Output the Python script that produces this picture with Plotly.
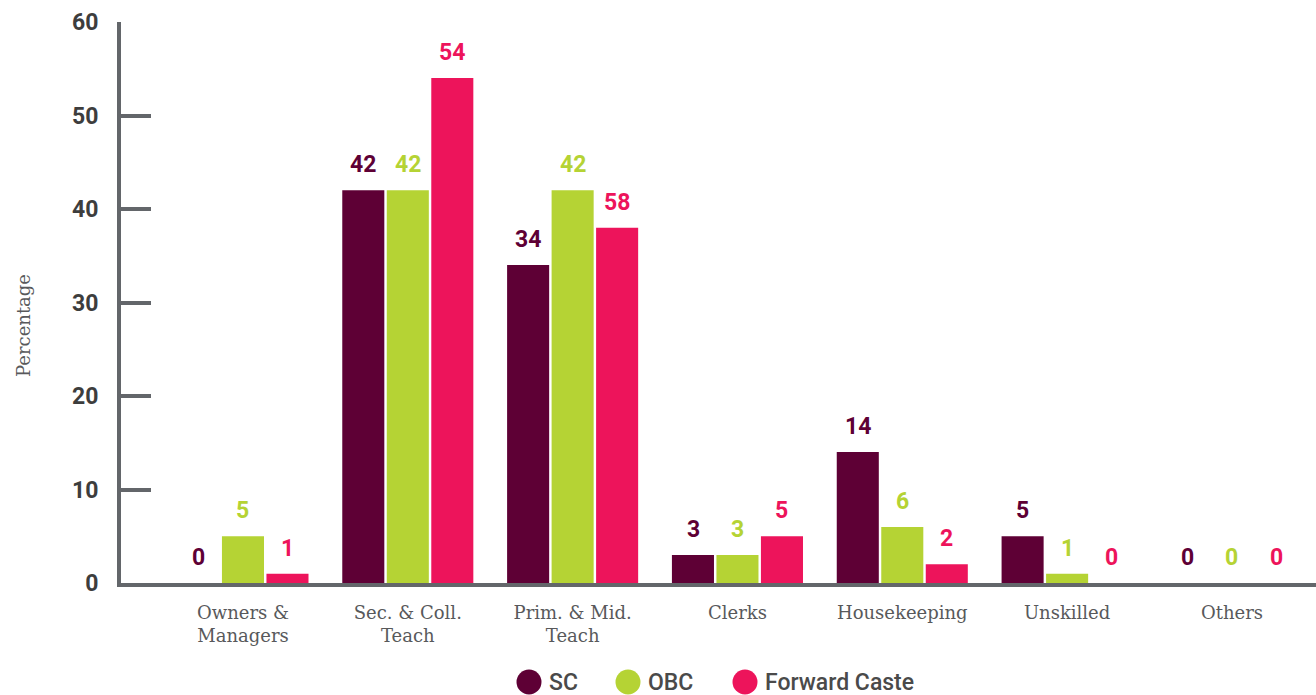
import plotly.graph_objects as go

categories = ["Owners &<br>Managers", "Sec. & Coll.<br>Teach", "Prim. & Mid.<br>Teach",
              "Clerks", "Housekeeping", "Unskilled", "Others"]
series_names = ["SC", "OBC", "Forward Caste"]
sc_values = [0, 42, 34, 3, 14, 5, 0]
obc_values = [5, 42, 42, 3, 6, 1, 0]
fc_values = [1, 54, 38, 5, 2, 0, 0]
sc_labels = ["0", "42", "34", "3", "14", "5", "0"]
obc_labels = ["5", "42", "42", "3", "6", "1", "0"]
fc_labels = ["1", "54", "58", "5", "2", "0", "0"]
y_ticks = [0, 10, 20, 30, 40, 50, 60]

colors = ["#5e0035", "#b5d334", "#ed145b"]
values = [sc_values, obc_values, fc_values]
labels = [sc_labels, obc_labels, fc_labels]

fig = go.Figure()
for name, vals, col in zip(series_names, values, colors):
    fig.add_trace(go.Bar(x=categories, y=vals, name=name, marker_color=col,
                         marker_line_width=0, showlegend=False))

# value labels above bars
slot = 44.4
for i, (vals, labs, col) in enumerate(zip(values, labels, colors)):
    for c, v, t in zip(categories, vals, labs):
        fig.add_annotation(x=c, y=v, text=t, showarrow=False, xref="x", yref="y",
                           xshift=(i - 1) * slot, yanchor="bottom", yshift=10,
                           font=dict(family="Roboto", size=23, color=col, weight="bold"))

# page pixel geometry of the plot area
plot_left, plot_w = 121, 1195
plot_top, plot_bottom = 22, 583
plot_h = plot_bottom - plot_top

# custom legend with large circular markers
legend_marker_px = [529, 628, 745]
legend_y = -(682 - plot_bottom) / plot_h
for name, col, mx in zip(series_names, colors, legend_marker_px):
    xp = (mx - plot_left) / plot_w
    fig.add_shape(type="circle", xref="paper", yref="paper",
                  xsizemode="pixel", ysizemode="pixel", xanchor=xp, yanchor=legend_y,
                  x0=-12.5, x1=12.5, y0=-12.5, y1=12.5,
                  fillcolor=col, line_width=0)
    fig.add_annotation(x=xp, y=legend_y, xref="paper", yref="paper", text=name,
                       showarrow=False, xanchor="left", yanchor="middle", xshift=18,
                       font=dict(family="Roboto", size=23, color="#4a4a4a", weight=500))

# y axis title
fig.add_annotation(x=(23 - plot_left) / plot_w, y=(plot_bottom - 326) / plot_h,
                   xref="paper", yref="paper", text="Percentage", textangle=-90,
                   showarrow=False, xanchor="center", yanchor="middle",
                   font=dict(family="DejaVu Serif", size=18, color="#58595b"))

axis_col = "#63666a"
fig.update_layout(
    width=1316, height=695,
    margin=dict(l=plot_left, r=0, t=plot_top, b=695 - plot_bottom),
    plot_bgcolor="white", paper_bgcolor="white",
    barmode="group", bargap=0.19, bargroupgap=0.055,
    showlegend=False,
    xaxis=dict(range=[-0.74, 6.51], showline=True, linewidth=4, linecolor=axis_col,
               ticks="", showgrid=False, zeroline=False, automargin=False,
               ticklabelstandoff=10,
               tickfont=dict(family="DejaVu Serif", size=18, color="#58595b")),
    yaxis=dict(range=[0, 60], tickvals=y_ticks, showline=True, linewidth=4,
               linecolor=axis_col, ticks="inside", ticklen=30, tickwidth=4,
               tickcolor=axis_col, showgrid=False, zeroline=False, ticklabelstandoff=14,
               automargin=False,
               tickfont=dict(family="Roboto", size=23, color="#3d3d3d", weight="bold")),
)

fig.write_html("out.html", config={"displayModeBar": False},
               post_script="document.body.style.margin='0';document.body.style.overflow='hidden';")
